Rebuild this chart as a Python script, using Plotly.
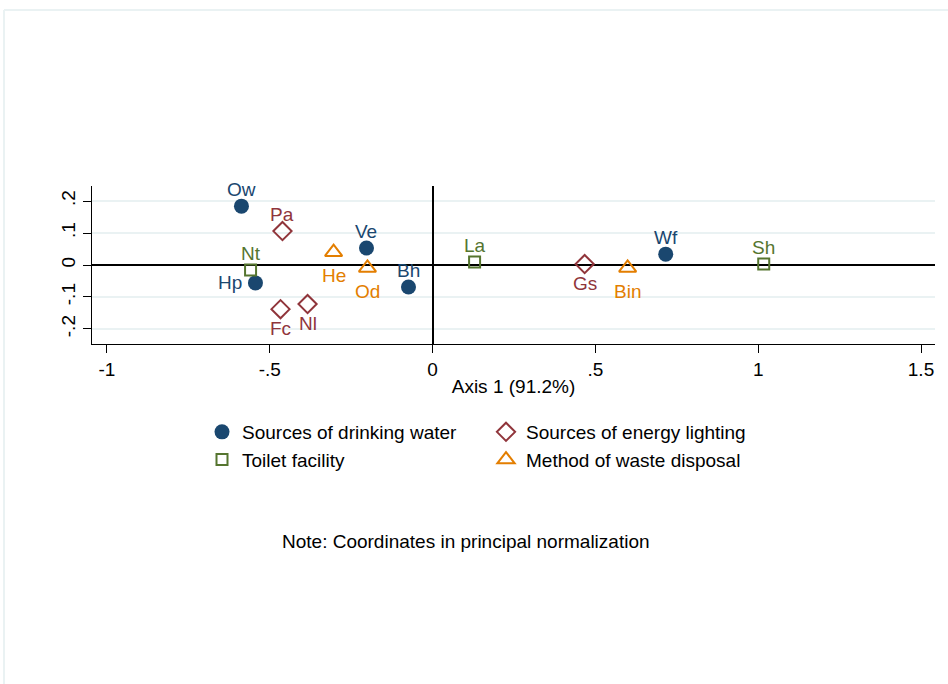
import plotly.graph_objects as go

# Correspondence analysis coordinates (principal normalization)
water_labels = ["Ow", "Hp", "Ve", "Bh", "Wf"]
water_x = [-0.587, -0.544, -0.203, -0.074, 0.716]
water_y = [0.184, -0.056, 0.053, -0.069, 0.034]

energy_labels = ["Pa", "Fc", "Nl", "Gs"]
energy_x = [-0.461, -0.467, -0.384, 0.467]
energy_y = [0.106, -0.138, -0.122, 0.003]

toilet_labels = ["Nt", "La", "Sh"]
toilet_x = [-0.559, 0.129, 1.017]
toilet_y = [-0.016, 0.009, 0.003]

waste_labels = ["He", "Od", "Bin"]
waste_x = [-0.304, -0.200, 0.599]
waste_y = [0.040, -0.009, -0.009]

x_ticks = [-1, -0.5, 0, 0.5, 1, 1.5]
x_ticktext = ["-1", "-.5", "0", ".5", "1", "1.5"]
y_ticks = [-0.2, -0.1, 0, 0.1, 0.2]
y_ticktext = ["-.2", "-.1", "0", ".1", ".2"]

# where each marker label sits relative to its point
water_pos = ["top", "left", "top", "top", "top"]
energy_pos = ["top", "bottom", "bottom", "bottom"]
toilet_pos = ["top", "top", "top"]
waste_pos = ["bottom", "bottom", "bottom"]

NAVY = "#1a476f"
MAROON = "#90353b"
GREEN = "#55752f"
ORANGE = "#e37e00"
GRID = "#eaf2f3"
FONT = "Arial, Liberation Sans, sans-serif"
FS = 19

W, H = 948, 684
L, R, T, B = 92, 13, 186, 340
pw, ph = W - L - R, H - T - B


def px_x(p):
    return (p - L) / pw


def px_y(p):
    return (H - B - p) / ph


fig = go.Figure()

series = [
    ("Sources of drinking water", water_x, water_y, water_labels, water_pos, NAVY,
     dict(symbol="circle", size=15, color=NAVY), 17, 19),
    ("Sources of energy lighting", energy_x, energy_y, energy_labels, energy_pos, MAROON,
     dict(symbol="diamond-open", size=14, color=MAROON, line=dict(width=2, color=MAROON)), 17, 19.5),
    ("Toilet facility", toilet_x, toilet_y, toilet_labels, toilet_pos, GREEN,
     dict(symbol="square-open", size=11, color=GREEN, line=dict(width=2, color=GREEN)), 16.5, 19),
    ("Method of waste disposal", waste_x, waste_y, waste_labels, waste_pos, ORANGE,
     dict(symbol="triangle-up-open", size=15, color=ORANGE, line=dict(width=2, color=ORANGE)), 17, 23.5),
]

for name, xs, ys, labels, pos, color, marker, up, down in series:
    fig.add_trace(go.Scatter(
        x=xs, y=ys, mode="markers", name=name, marker=marker, cliponaxis=False,
    ))
    for xv, yv, lab, p in zip(xs, ys, labels, pos):
        xs_, ys_ = 0, 0
        if p == "top":
            ys_ = up
        elif p == "bottom":
            ys_ = -down
        else:
            xs_ = -25
        fig.add_annotation(
            x=xv, y=yv, text=lab, showarrow=False, xref="x", yref="y",
            xanchor="center", yanchor="middle", xshift=xs_, yshift=ys_,
            font=dict(size=FS, color=color, family=FONT),
        )

# outer graph-region border (top and left edges)
fig.add_shape(type="line", xref="paper", yref="paper",
              x0=px_x(4), x1=px_x(948), y0=px_y(10), y1=px_y(10),
              line=dict(color=GRID, width=2))
fig.add_shape(type="line", xref="paper", yref="paper",
              x0=px_x(4), x1=px_x(4), y0=px_y(10), y1=px_y(684),
              line=dict(color=GRID, width=2))

fig.add_annotation(
    text="Note: Coordinates in principal normalization",
    xref="paper", yref="paper", x=px_x(466), y=px_y(541),
    xanchor="center", yanchor="middle", showarrow=False,
    font=dict(size=FS, color="#000000", family=FONT),
)
# vertical axis title sits at the left edge of the canvas
fig.add_annotation(
    text="Axis 2 (5.3%)",
    xref="paper", yref="paper", x=px_x(-24), y=px_y(265),
    xanchor="left", yanchor="middle", textangle=-90, showarrow=False,
    font=dict(size=FS, color="#000000", family=FONT),
)

fig.update_layout(
    width=W, height=H,
    margin=dict(l=L, r=R, t=T, b=B),
    paper_bgcolor="white", plot_bgcolor="white",
    font=dict(family=FONT, size=FS, color="#000000"),
    showlegend=True,
    legend=dict(
        orientation="h", x=px_x(202), y=px_y(413), xanchor="left", yanchor="top",
        entrywidth=239, entrywidthmode="pixels",
        font=dict(size=FS, family=FONT), bgcolor="rgba(0,0,0,0)",
    ),
    xaxis=dict(
        range=[-1.046, 1.543], tickvals=x_ticks, ticktext=x_ticktext,
        showgrid=False, zeroline=True, zerolinecolor="#000000", zerolinewidth=1.5,
        showline=True, linecolor="#000000", linewidth=1.2,
        ticks="outside", ticklen=8, tickwidth=1.2, tickcolor="#000000",
        title=dict(text="Axis 1 (91.2%)", font=dict(size=FS), standoff=0),
        tickfont=dict(size=FS),
    ),
    yaxis=dict(
        range=[-0.247, 0.247], tickvals=y_ticks, ticktext=y_ticktext,
        showgrid=True, gridcolor=GRID, gridwidth=2,
        zeroline=True, zerolinecolor="#000000", zerolinewidth=1.5,
        showline=True, linecolor="#000000", linewidth=1.2,
        ticks="outside", ticklen=8, tickwidth=1.2, tickcolor="#000000",
        tickangle=-90, tickfont=dict(size=FS),
    ),
)

fig.write_html("out.html")
